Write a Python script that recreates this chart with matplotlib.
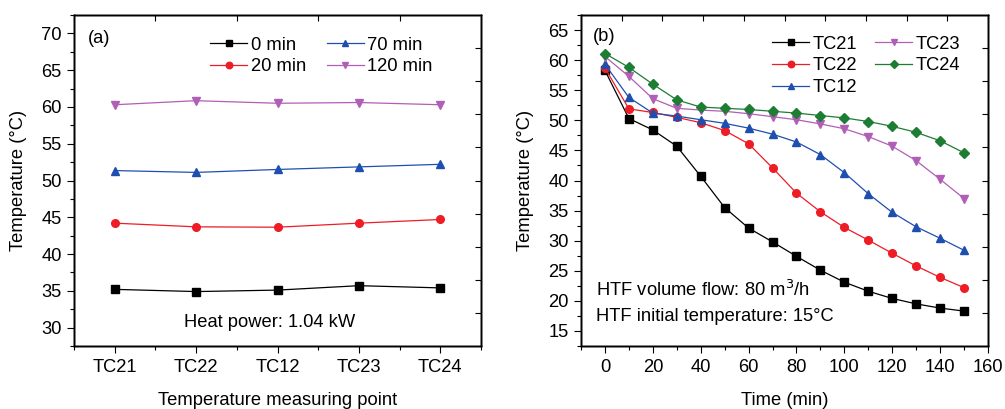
import matplotlib
matplotlib.use("Agg")
import matplotlib.pyplot as plt
import numpy as np

plt.rcParams['font.family'] = ['Liberation Sans', 'DejaVu Sans']

# panel (a): temperature at each measuring point
puntos = ["TC21", "TC22", "TC12", "TC23", "TC24"]
t_0min = [35.2, 34.9, 35.1, 35.7, 35.4]
t_20min = [44.2, 43.7, 43.65, 44.2, 44.7]
t_70min = [51.35, 51.1, 51.5, 51.85, 52.2]
t_120min = [60.3, 60.85, 60.5, 60.6, 60.3]

# panel (b): cooling curves
tiempo = [0, 10, 20, 30, 40, 50, 60, 70, 80, 90, 100, 110, 120, 130, 140, 150]
tc21 = [58.3, 50.3, 48.4, 45.7, 40.7, 35.5, 32.1, 29.8, 27.4, 25.1, 23.1, 21.6, 20.4, 19.5, 18.8, 18.3]
tc22 = [58.7, 51.9, 51.3, 50.5, 49.6, 48.3, 46.1, 42.1, 37.9, 34.8, 32.2, 30.1, 27.9, 25.8, 23.9, 22.2]
tc12 = [59.3, 53.8, 51.2, 50.7, 50.1, 49.5, 48.7, 47.7, 46.4, 44.3, 41.3, 37.8, 34.7, 32.3, 30.4, 28.4]
tc23 = [60.6, 57.3, 53.6, 52.0, 51.7, 51.5, 51.1, 50.6, 50.1, 49.4, 48.6, 47.3, 45.7, 43.3, 40.2, 37.0]
tc24 = [61.1, 58.8, 56.0, 53.4, 52.2, 52.0, 51.8, 51.5, 51.2, 50.8, 50.4, 49.8, 49.0, 48.0, 46.6, 44.6]

NEGRO = "#000000"
ROJO = "#ee1c25"
AZUL = "#1f4fae"
MORADO = "#b15fb6"
VERDE = "#1d7d33"

FS = 13.2

fig = plt.figure(figsize=(10.05, 4.09), dpi=100)
ax1 = fig.add_axes([74 / 1005, 1 - 346 / 409, 407 / 1005, 331 / 409])
ax2 = fig.add_axes([581 / 1005, 1 - 346 / 409, 407 / 1005, 331 / 409])


def espejo(ax, top_ticks):
    # ticks espejo estilo origin (arriba y derecha)
    tx = ax.twinx()
    tx.set_ylim(0, 10)
    tx.set_yticks(range(1, 10))
    tx.tick_params(axis='y', direction='in', length=4, width=0.8, labelright=False)
    ty = ax.twiny()
    ty.set_xlim(0, 1)
    ty.set_xticks(top_ticks)
    ty.tick_params(axis='x', direction='in', length=4, width=0.8, labeltop=False)
    for a in (tx, ty):
        for s in a.spines.values():
            s.set_linewidth(1.0)


# grafico (a)
x = np.arange(1, len(puntos) + 1)
kw = dict(linewidth=0.9, markersize=5.5)
ax1.plot(x, t_0min, marker='s', color=NEGRO, label="0 min", **kw)
ax1.plot(x, t_20min, marker='o', color=ROJO, label="20 min", **kw)
ax1.plot(x, t_70min, marker='^', color=AZUL, label="70 min", **kw)
ax1.plot(x, t_120min, marker='v', color=MORADO, label="120 min", **kw)
ax1.set_xlim(0.5, 5.5)
ax1.set_ylim(27.5, 72.5)
ax1.set_xticks(x)
ax1.set_xticklabels(puntos)
ax1.set_xticks(np.arange(0.5, 5.6, 1.0), minor=True)
ax1.set_yticks(np.arange(30, 71, 5))
ax1.set_yticks(np.arange(27.5, 72.6, 2.5), minor=True)
ax1.set_xlabel("Temperature measuring point", fontsize=FS, labelpad=12)
ax1.set_ylabel("Temperature (°C)", fontsize=FS, labelpad=10)
ax1.text(0.035, 0.93, "(a)", transform=ax1.transAxes, fontsize=FS, va='center')
ax1.text(0.48, 0.07, "Heat power: 1.04 kW", transform=ax1.transAxes, fontsize=FS,
         ha='center', va='center')
ax1.legend(ncol=2, loc='upper left', bbox_to_anchor=(0.335, 0.935), frameon=False,
           fontsize=FS, handlelength=2.0, handletextpad=0.2, columnspacing=1.15,
           labelspacing=0.25, borderpad=0, borderaxespad=0, markerscale=0.85)
espejo(ax1, [0.2, 0.4, 0.6, 0.8])

# grafico (b)
ax2.plot(tiempo, tc21, marker='s', color=NEGRO, label="TC21", **kw)
ax2.plot(tiempo, tc22, marker='o', color=ROJO, label="TC22", **kw)
ax2.plot(tiempo, tc12, marker='^', color=AZUL, label="TC12", **kw)
ax2.plot(tiempo, tc23, marker='v', color=MORADO, label="TC23", **kw)
ax2.plot(tiempo, tc24, marker='D', color=VERDE, label="TC24", markersize=5, linewidth=0.9)
ax2.set_xlim(-10, 160)
ax2.set_ylim(12.5, 67.5)
ax2.set_xticks(np.arange(0, 161, 20))
ax2.set_xticks(np.arange(-10, 161, 10), minor=True)
ax2.set_yticks(np.arange(15, 66, 5))
ax2.set_yticks(np.arange(12.5, 67.6, 2.5), minor=True)
ax2.set_xlabel("Time (min)", fontsize=FS, labelpad=12)
ax2.set_ylabel("Temperature (°C)", fontsize=FS, labelpad=10)
ax2.text(0.028, 0.935, "(b)", transform=ax2.transAxes, fontsize=FS, va='center')
ax2.text(0.037, 0.17, "HTF volume flow: 80 m$^3$/h", transform=ax2.transAxes,
         fontsize=FS, va='center')
ax2.text(0.037, 0.09, "HTF initial temperature: 15°C", transform=ax2.transAxes,
         fontsize=FS, va='center')
ax2.legend(ncol=2, loc='upper left', bbox_to_anchor=(0.47, 0.937), frameon=False,
           fontsize=FS, handlelength=2.0, handletextpad=0.2, columnspacing=1.0,
           labelspacing=0.25, borderpad=0, borderaxespad=0, markerscale=0.85)
espejo(ax2, [i / 10 for i in range(1, 10)])

for ax in (ax1, ax2):
    ax.tick_params(axis='both', which='major', direction='out', length=5, width=0.8,
                   labelsize=FS, pad=4)
    ax.tick_params(axis='both', which='minor', direction='out', length=3, width=0.8)
    for s in ax.spines.values():
        s.set_linewidth(1.0)
    ax.set_facecolor('none')

fig.savefig("out.png", dpi=100)
